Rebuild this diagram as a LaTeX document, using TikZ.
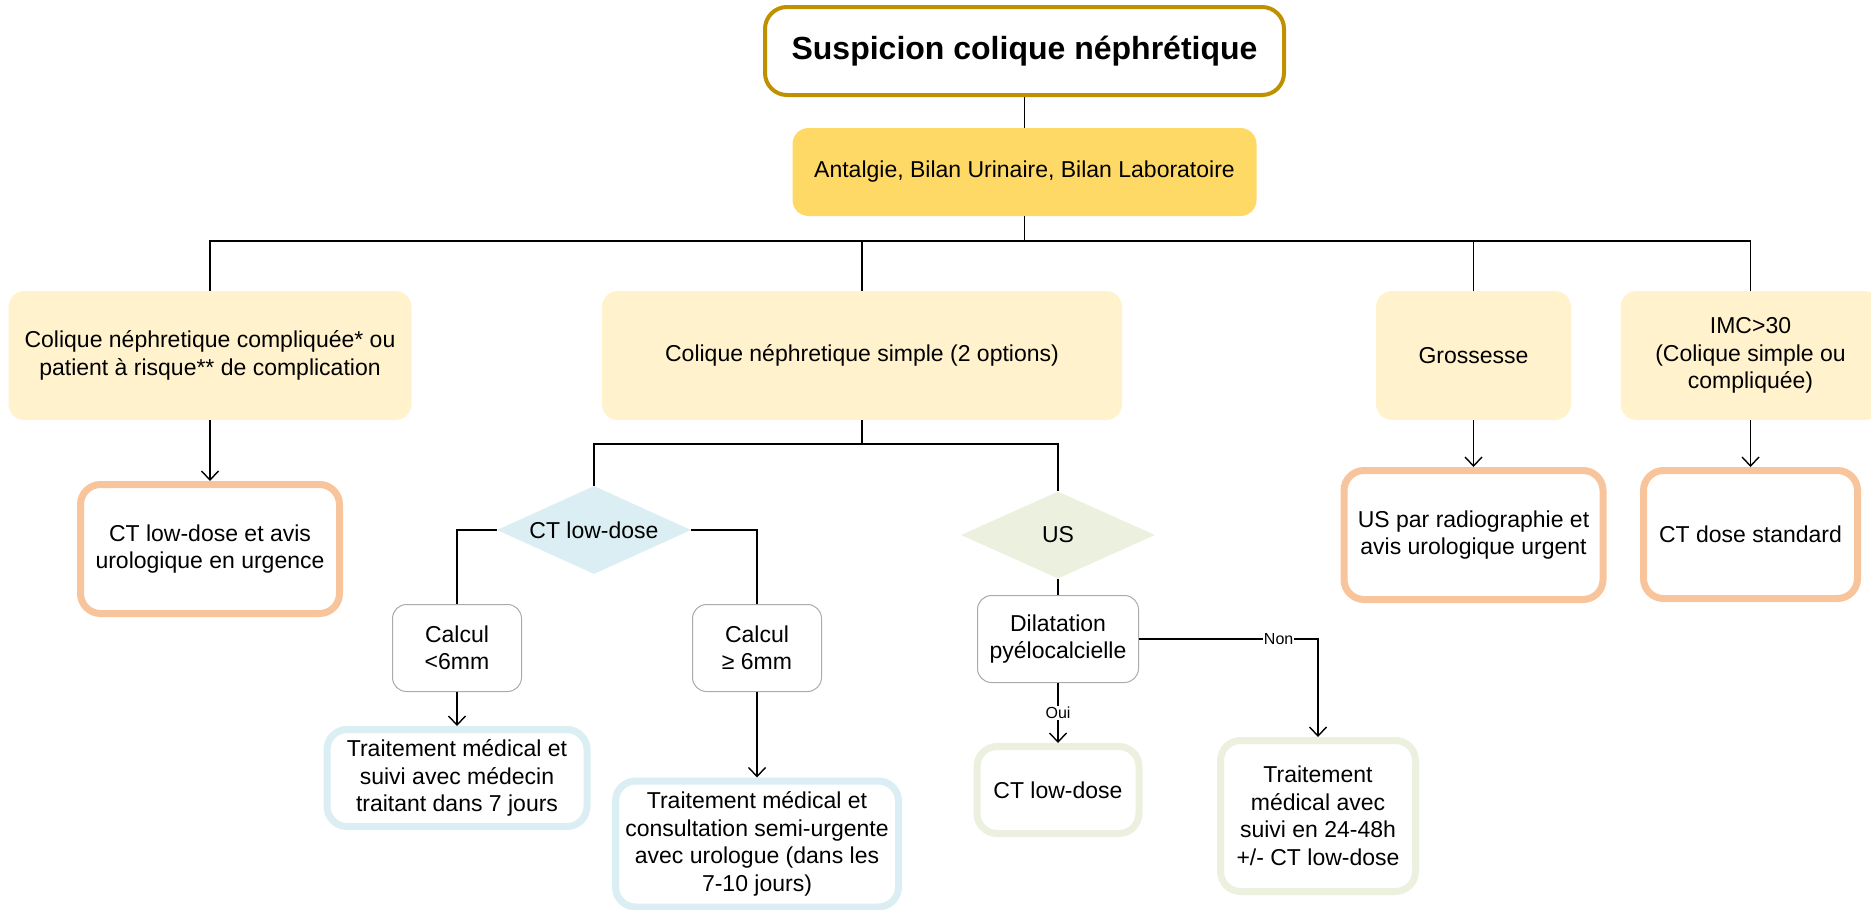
\documentclass[tikz,border=0pt]{standalone}
\usepackage{fontspec}
\setmainfont{Liberation Sans}
\usetikzlibrary{shapes.geometric,arrows.meta}
\definecolor{gold}{HTML}{BF9000}
\definecolor{goldfill}{HTML}{FFD966}
\definecolor{casefill}{HTML}{FFF2CC}
\definecolor{orangeline}{HTML}{F8C49C}
\definecolor{blueline}{HTML}{DAEEF3}
\definecolor{greenline}{HTML}{EBF1DE}
\definecolor{greyline}{HTML}{ABABAB}
\tikzset{
  txt/.style={align=center, font=\fontsize{23}{27.5}\selectfont, inner sep=0pt},
  casebox/.style={txt, fill=casefill, rounded corners=16pt, minimum height=129pt},
  resultbox/.style={txt, draw=#1, fill=white, line width=7pt, rounded corners=20pt},
  calcbox/.style={txt, draw=greyline, fill=white, line width=1pt, rounded corners=14pt, minimum width=129pt, minimum height=87pt},
  choice/.style={txt, diamond, aspect=2.2, fill=#1, minimum width=194pt, minimum height=88pt},
  link/.style={line width=1.4pt},
  arr/.style={link, -{Straight Barb[length=9pt,width=17pt]}},
  lbl/.style={fill=white, inner sep=1pt, font=\fontsize{16}{19}\selectfont}
}
\begin{document}
\begin{tikzpicture}[x=1pt,y=-1pt]
\useasboundingbox (0,0) rectangle (1871,910);
\node[txt, draw=gold, fill=white, line width=4pt, rounded corners=22pt, minimum width=519pt, minimum height=88pt, font=\fontsize{32}{38}\selectfont\bfseries] (titre) at (1024.5,51) {Suspicion colique néphrétique};
\node[txt, fill=goldfill, rounded corners=16pt, minimum width=464pt, minimum height=88pt] (bilan) at (1024.5,172) {Antalgie, Bilan Urinaire, Bilan Laboratoire};

\node[casebox, minimum width=403pt] (complique) at (210,355.5) {Colique néphretique compliquée* ou\\patient à risque** de complication};
\node[casebox, minimum width=520pt] (simple) at (862,355.5) {Colique néphretique simple (2 options)};
\node[casebox, minimum width=195pt] (grossesse) at (1473.5,355.5) {Grossesse};
\node[casebox, minimum width=260pt] (imc) at (1750.5,355.5) {IMC>30\\(Colique simple ou\\compliquée)};

\node[resultbox=orangeline, minimum width=259pt, minimum height=129pt] (ctavis) at (210,549) {CT low-dose et avis\\urologique en urgence};
\node[resultbox=orangeline, minimum width=259pt, minimum height=129pt] (usradio) at (1473.5,535) {US par radiographie et\\avis urologique urgent};
\node[resultbox=orangeline, minimum width=214pt, minimum height=128pt] (ctstandard) at (1750.5,534.5) {CT dose standard};

\node[choice=blueline] (ctchoix) at (594,530) {CT low-dose};
\node[choice=greenline, minimum height=87pt] (uschoix) at (1058,535) {US};

\node[calcbox] (petit) at (457,648) {Calcul\\<6mm};
\node[calcbox] (grand) at (757,648) {Calcul\\≥ 6mm};
\node[resultbox=blueline, minimum width=260pt, minimum height=97pt] (suivi7) at (457,778) {Traitement médical et\\suivi avec médecin\\traitant dans 7 jours};
\node[resultbox=blueline, minimum width=283pt, minimum height=126pt] (semiurg) at (757,844) {Traitement médical et\\consultation semi-urgente\\avec urologue (dans les\\7-10 jours)};

\node[calcbox, minimum width=161pt] (dilatation) at (1058,639) {Dilatation\\pyélocalcielle};
\node[resultbox=greenline, minimum width=162pt, minimum height=87pt] (ctbas) at (1058,790) {CT low-dose};
\node[resultbox=greenline, minimum width=195pt, minimum height=151pt] (traitsuivi) at (1318,816) {Traitement\\médical avec\\suivi en 24-48h\\+/- CT low-dose};

\coordinate (bus) at (0,241);
\coordinate (sousbus) at (0,444);
\draw[link] (titre) -- (bilan);
\foreach \cas in {complique,simple,grossesse,imc}
  \draw[link] (bilan.south) -- (bilan.south |- bus) -| (\cas.north);
\draw[arr] (complique.south) -- (ctavis.north);
\draw[arr] (grossesse.south) -- (usradio.north);
\draw[arr] (imc.south) -- (ctstandard.north);
\draw[link] (simple.south) -- (simple.south |- sousbus) -| (ctchoix.north);
\draw[link] (simple.south) -- (simple.south |- sousbus) -| (uschoix.north);
\draw[link] (ctchoix.west) -| (petit.north);
\draw[link] (ctchoix.east) -| (grand.north);
\draw[arr] (petit.south) -- (suivi7.north);
\draw[arr] (grand.south) -- (semiurg.north);
\draw[link] (uschoix.south) -- (dilatation.north);
\draw[arr] (dilatation.south) -- node[lbl]{Oui} (ctbas.north);
\draw[arr] (dilatation.east) -| node[lbl, pos=0.39]{Non} (traitsuivi.north);
\end{tikzpicture}
\end{document}
